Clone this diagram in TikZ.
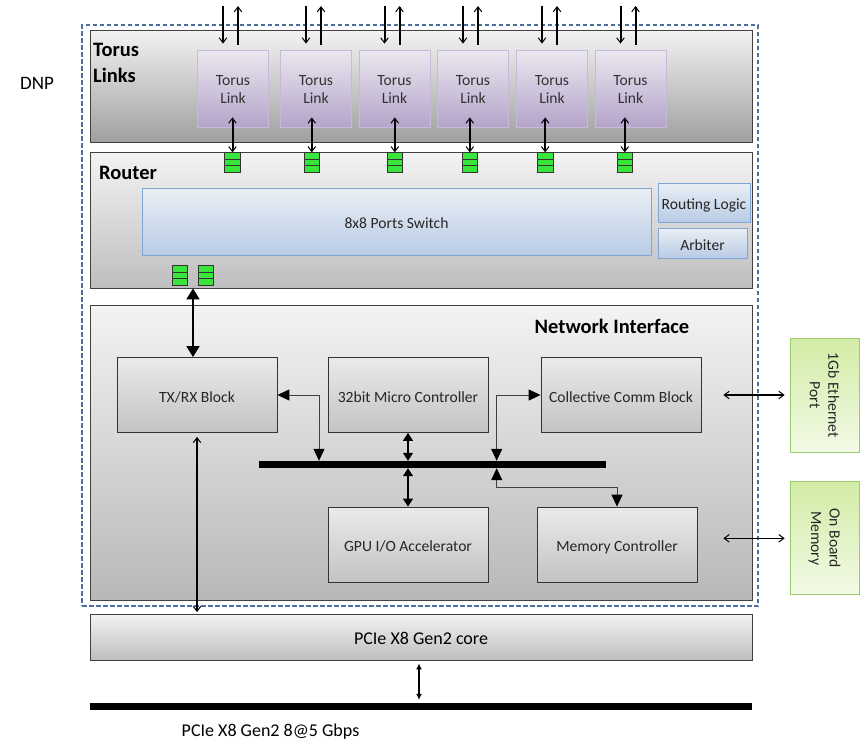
\documentclass[tikz,border=0pt]{standalone}
\usepackage{fontspec}
\setmainfont{Carlito}
\usetikzlibrary{arrows.meta,calc}

\definecolor{dashblue}{HTML}{4A6FA0}
\definecolor{fifogreen}{HTML}{3BE43B}
\definecolor{panelhi}{HTML}{F3F3F3}
\definecolor{torusgrey}{HTML}{9F9F9F}
\definecolor{routergrey}{HTML}{BEBEBE}
\definecolor{nigrey}{HTML}{B8B8B8}
\definecolor{unithi}{HTML}{EAEAEA}
\definecolor{unitlo}{HTML}{C3C3C3}
\definecolor{linkhi}{HTML}{EBE7EF}
\definecolor{linklo}{HTML}{B4A4CA}
\definecolor{linkedge}{HTML}{C6B9D9}
\definecolor{swhi}{HTML}{EBEFF5}
\definecolor{swlo}{HTML}{B8CBE5}
\definecolor{swedge}{HTML}{7FA5D5}
\definecolor{exthi}{HTML}{F2FAE6}
\definecolor{extlo}{HTML}{D2ECA6}
\definecolor{extedge}{HTML}{9CCB6C}
\definecolor{wire}{HTML}{404040}

\newcommand\dnpreg{\fontsize{15.6}{18.5}\selectfont}
\newcommand\dnphead{\fontsize{20.5}{25.5}\selectfont\bfseries}
\newcommand\dnpbig{\fontsize{18}{21}\selectfont}

\begin{document}
\begin{tikzpicture}[x=1pt,y=-1pt,
  Barbtip/.tip={Straight Barb[length=5pt,width=7.5pt,line width=1pt]},
  Bigtri/.tip={Triangle[length=11pt,width=13pt]},
  Midtri/.tip={Triangle[length=12pt,width=11pt,color=black]},
  Smalltri/.tip={Triangle[length=8pt,width=10pt]},
  Pcietip/.tip={Latex[length=6pt,width=6pt]},
  % single text lines sit a little below the geometric middle
  lowtext/.style={text height=15pt, text depth=1pt},
  panel/.style={draw=black!75, line width=0.8pt, top color=panelhi, bottom color=#1,
    minimum width=662pt, inner sep=0pt},
  unit/.style={draw=black!80, line width=0.8pt, top color=unithi, bottom color=unitlo,
    minimum width=160pt, minimum height=75pt, inner sep=0pt, font=\dnpreg, text=black!85, lowtext},
  linkbox/.style={draw=linkedge, line width=0.8pt, top color=linkhi, bottom color=linklo,
    minimum width=71pt, minimum height=77pt, inner sep=0pt},
  linktext/.style={align=center, font=\dnpreg, text=black!80, inner sep=0pt, yshift=-1pt},
  swbox/.style={draw=swedge, line width=0.9pt, top color=swhi, bottom color=swlo,
    inner sep=0pt, font=\dnpreg, text=black!85, lowtext},
  extbox/.style={draw=extedge, line width=0.8pt, top color=extlo, bottom color=exthi,
    inner sep=0pt, rotate=-90, align=center, font=\dnpreg, text=black!85},
  fifo/.style={draw=black!80, line width=0.8pt, fill=fifogreen,
    minimum width=15.5pt, minimum height=19.5pt, inner sep=0pt,
    path picture={
      \draw[black!80, line width=0.8pt]
        ($(path picture bounding box.north west)!1/3!(path picture bounding box.south west)$) --
        ($(path picture bounding box.north east)!1/3!(path picture bounding box.south east)$)
        ($(path picture bounding box.north west)!2/3!(path picture bounding box.south west)$) --
        ($(path picture bounding box.north east)!2/3!(path picture bounding box.south east)$);
    }},
  bar/.style={fill=black, inner sep=0pt},
  heading/.style={font=\dnphead, inner sep=0pt, align=left},
  barbline/.style={line width=2pt, -{Barbtip}},
  barbboth/.style={line width=2pt, {Barbtip}-{Barbtip}},
  bigboth/.style={line width=1.8pt, {Bigtri}-{Bigtri}},
  elbowboth/.style={draw=wire, line width=1pt, {Midtri}-{Midtri}},
  smallboth/.style={line width=1.3pt, {Smalltri}-{Smalltri}},
  extboth/.style={line width=1.4pt, {Barbtip}-{Barbtip}},
  pcieboth/.style={line width=1.6pt, {Pcietip}-{Pcietip}}
]
\useasboundingbox (0,0) rectangle (863,740);

% DNP frame and its label
\node[draw=dashblue, line width=1.6pt, dash pattern=on 4.5pt off 2.5pt,
      minimum width=676pt, minimum height=581pt, inner sep=0pt] (dnp) at (420,315.5) {};
\node[font=\fontsize{19}{22}\selectfont] (dnplabel) at (37,83) {DNP};

% Torus links panel
\node[panel=torusgrey, minimum height=112pt] (torus) at (421,86) {};
\node[heading, anchor=north west] (toruslabel) at (93,43.5) {Torus\\Links};

% Router panel
\node[panel=routergrey, minimum height=136pt] (router) at (421,220) {};
\node[heading, anchor=base west] (routerlabel) at (99,179) {Router};
\node[swbox, minimum width=509pt, minimum height=67pt] (switch) at (396.5,221.5) {8x8 Ports Switch};
\node[swbox, minimum width=92pt, minimum height=39pt] (routing) at (704,202.5) {Routing Logic};
\node[swbox, minimum width=89pt, minimum height=30pt] (arbiter) at (702.5,243) {Arbiter};
\node[fifo] (rf1) at (180,275.5) {};
\node[fifo] (rf2) at (206,275.5) {};

% six torus links, their router FIFOs and off-chip lines
\foreach \i/\cx/\fx in {1/233/232.5, 2/316/311.8, 3/394.5/394.8, 4/473/469.8, 5/552/545.2, 6/630.5/624.8} {
  \node[linkbox] (tl\i) at (\cx,88.5) {};
  \node[linktext] (tlt\i) at (tl\i.center) {Torus\\Link};
  \node[fifo] (tf\i) at (\fx,162.5) {};
  \coordinate (rx\i) at (\cx-10,6);
  \coordinate (tx\i) at (\cx+5,6);
  \draw[barbline, shorten >=6pt] (rx\i) -- (rx\i |- tl\i.north);
  \draw[barbline, shorten <=5pt] (tx\i |- tl\i.north) -- (tx\i);
  \draw[barbboth] ($(tf\i.north |- tl\i.south)+(0,-10)$) -- (tf\i.north);
}

% Network interface panel
\node[panel=nigrey, minimum height=295pt] (ni) at (421,452.5) {};
\node[heading, anchor=base] (nilabel) at (612,333) {Network Interface};
\node[unit] (txrx) at (197,395) {TX/RX Block};
\node[unit] (mc) at (408,395) {32bit Micro Controller};
\node[unit] (ccb) at (621,395) {Collective Comm Block};
\node[unit] (gpu) at (408,544.5) {GPU I/O Accelerator};
\node[unit] (memc) at (617,544.5) {Memory Controller};
\node[bar, minimum width=347pt, minimum height=7pt] (bus) at (432.5,464.5) {};

% router port to TX/RX block
\coordinate (rmid) at ($(rf1.south)!0.5!(rf2.south)$);
\draw[bigboth] (router.south -| rmid) -- (txrx.north -| rmid);

% internal bus connections
\draw[elbowboth] (txrx.east) -| (bus.north -| 319,0);
\draw[elbowboth] (ccb.west) -| (bus.north -| 496.7,0);
\draw[elbowboth] (bus.south -| 496.7,0) |- (memc.north |- 0,487.7) -- (memc.north);
\draw[smallboth] (mc.south) -- (mc.south |- bus.north);
\draw[smallboth] (gpu.north |- bus.south) -- (gpu.north);

% external devices (rotated: their south anchor faces left)
\node[extbox, minimum width=114pt, minimum height=69pt] (eth) at (824.5,395.3) {1Gb Ethernet\\Port};
\node[extbox, minimum width=113pt, minimum height=69pt] (obm) at (824.5,538.3) {On Board\\Memory};
\draw[extboth, shorten <=22pt, shorten >=5pt] (ccb.east) -- (ccb.east -| eth.south);
\draw[extboth, shorten <=26pt, shorten >=5pt] (memc.east |- obm.center) -- (obm.south);

% PCIe core and host bus
\node[panel=routergrey, minimum height=46pt, font=\dnpbig, text height=17pt, text depth=1.4pt] (pcie) at (421,637) {PCIe X8 Gen2 core};
\node[bar, minimum width=662pt, minimum height=7.5pt] (pbus) at (421,706.3) {};
\draw[barbboth, shorten <=4pt, shorten >=1.5pt] (txrx.south) -- (txrx.south |- pcie.north);
\draw[pcieboth, shorten <=3pt, shorten >=2.5pt] (pcie.south -| 419,0) -- (pbus.north -| 419,0);
\node[font=\dnpbig, anchor=base, inner sep=0pt] (pbuslabel) at (270.5,736.5) {PCIe X8 Gen2 8@5 Gbps};
\end{tikzpicture}
\end{document}
